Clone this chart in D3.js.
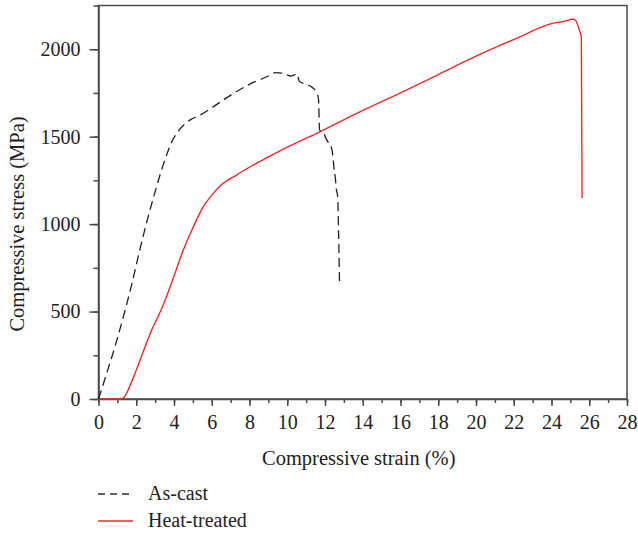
<!DOCTYPE html>
<html>
<head>
<meta charset="utf-8">
<script src="https://cdn.jsdelivr.net/npm/d3@7"></script>
<style>
  body { margin: 0; background: #fff; }
  text { font-family: "Liberation Serif", "DejaVu Serif", serif; fill: #222; }
  .axis path, .axis line { stroke: #4a4a4a; stroke-width: 1.5; }
</style>
</head>
<body>
<div class="chart"></div>
<script>
// As-cast curve (strain %, stress MPa)
var asCastStrain = [0, 0.44, 0.9, 1.32, 1.75, 2.21, 2.6, 3.04, 3.4, 3.71, 3.9, 4.15, 4.5, 4.86, 5.39, 6.0, 6.62, 7.5, 8.2, 8.74, 9.1, 9.36, 9.72, 9.95, 10.16, 10.35, 10.51, 10.65, 11.0, 11.31, 11.57, 11.66, 11.71, 11.92, 12.1, 12.37, 12.5, 12.54, 12.6, 12.67, 12.72, 12.77];
var asCastStress = [0, 149, 310, 472, 650, 863, 1030, 1200, 1330, 1425, 1475, 1520, 1565, 1596, 1624, 1665, 1710, 1770, 1810, 1834, 1852, 1866, 1863, 1855, 1847, 1852, 1859, 1815, 1800, 1783, 1749, 1710, 1539, 1520, 1480, 1425, 1300, 1272, 1200, 1158, 949, 663];

// Heat-treated curve
var heatStrain = [0, 1.15, 1.32, 1.8, 2.21, 2.8, 3.36, 3.8, 4.5, 5.03, 5.56, 6.01, 6.45, 7.33, 8.39, 9.54, 11.75, 13.87, 16, 18, 20, 22.35, 23.94, 24.6, 25.17, 25.26, 25.53, 25.58, 25.62];
var heatStress = [0, 0, 6, 110, 225, 390, 520, 643, 853, 986, 1101, 1167, 1219, 1282, 1349, 1415, 1529, 1643, 1750, 1855, 1960, 2072, 2145, 2158, 2171, 2167, 2091, 2072, 1149];

var xTicks = d3.range(0, 29, 2);
var yTicks = [0, 500, 1000, 1500, 2000];
var seriesNames = ["As-cast", "Heat-treated"];

var margin = { top: 5.5, right: 11, bottom: 134, left: 98.5 };
var width = 638 - margin.left - margin.right;
var height = 533 - margin.top - margin.bottom;

var x = d3.scaleLinear().domain([0, 28]).range([0, width]);
var y = d3.scaleLinear().domain([0, 2250]).range([height, 0]);

var svg = d3.select(".chart").append("svg")
    .attr("width", 638)
    .attr("height", 533)
  .append("g")
    .attr("transform", "translate(" + margin.left + "," + margin.top + ")");

// minor ticks
svg.append("g")
    .attr("class", "axis")
    .attr("transform", "translate(0," + height + ")")
    .call(d3.axisBottom(x).tickValues(d3.range(0, 29, 1)).tickSize(4).tickFormat(""))
    .select(".domain").remove();
svg.append("g")
    .attr("class", "axis")
    .call(d3.axisLeft(y).tickValues(d3.range(0, 2251, 250)).tickSize(5).tickFormat(""))
    .select(".domain").remove();

// frame
svg.append("rect")
    .attr("width", width)
    .attr("height", height)
    .attr("fill", "none")
    .attr("stroke", "#4a4a4a")
    .attr("stroke-width", 1.5);

var xAxis = svg.append("g")
    .attr("class", "axis")
    .attr("transform", "translate(0," + height + ")")
    .call(d3.axisBottom(x).tickValues(xTicks).tickSize(7).tickSizeOuter(0).tickPadding(9));
xAxis.selectAll("text").style("font-size", "20px").attr("fill", "#222");

var yAxis = svg.append("g")
    .attr("class", "axis")
    .call(d3.axisLeft(y).tickValues(yTicks).tickFormat(d3.format("d")).tickSize(9).tickSizeOuter(0).tickPadding(9));
yAxis.selectAll("text").style("font-size", "20px").attr("fill", "#222");

svg.append("text")
    .attr("x", x(14) - 4)
    .attr("y", height + 66)
    .style("text-anchor", "middle")
    .style("font-size", "20.5px")
    .text("Compressive strain (%)");

svg.append("text")
    .attr("transform", "rotate(-90)")
    .attr("x", -(224 - margin.top))
    .attr("y", -margin.left + 24)
    .style("text-anchor", "middle")
    .style("font-size", "20.5px")
    .text("Compressive stress (MPa)");

var line = d3.line()
    .curve(d3.curveMonotoneX)
    .x(function(d) { return x(d[0]); })
    .y(function(d) { return y(d[1]); });

var asCast = asCastStrain.map(function(s, i) { return [s, asCastStress[i]]; });
var heat = heatStrain.map(function(s, i) { return [s, heatStress[i]]; });

svg.append("path")
    .datum(heat)
    .attr("d", line)
    .attr("fill", "none")
    .attr("stroke", "#ee2a2a")
    .attr("stroke-width", 1.4);

svg.append("path")
    .datum(asCast)
    .attr("d", line)
    .attr("fill", "none")
    .attr("stroke", "#222")
    .attr("stroke-width", 1.3)
    .attr("stroke-dasharray", "9,5");

// legend
var legend = d3.select("svg").append("g");
var legendY = [494, 521];
var legendStyle = [{ c: "#333", d: "7,5" }, { c: "#ee2a2a", d: null }];
seriesNames.forEach(function(name, i) {
  legend.append("line")
      .attr("x1", 98).attr("x2", 133)
      .attr("y1", legendY[i]).attr("y2", legendY[i])
      .attr("stroke", legendStyle[i].c)
      .attr("stroke-width", 1.3)
      .attr("stroke-dasharray", legendStyle[i].d);
  legend.append("text")
      .attr("x", 148)
      .attr("y", legendY[i] + 6)
      .style("font-size", "20px")
      .text(name);
});
</script>
</body>
</html>
